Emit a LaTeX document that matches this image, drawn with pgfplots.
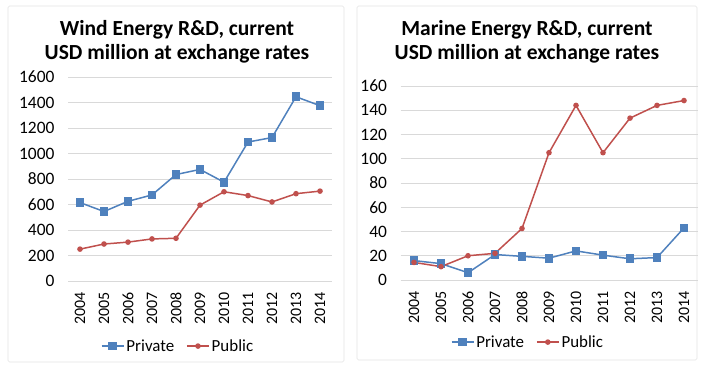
\documentclass[border=0pt]{standalone}
\usepackage{pgfplots}
\pgfplotsset{compat=1.18}
\usepackage{fontspec}
\setmainfont{Carlito}
\definecolor{cblue}{HTML}{4F81BD}
\definecolor{cred}{HTML}{C0504D}
\definecolor{cgrid}{HTML}{D9D9D9}
\pgfplotsset{
  panel/.style={
    scale only axis,
    anchor=south west,
    xmin=2003.5, xmax=2014.5,
    xtick={2004,...,2014},
    x tick label style={/pgf/number format/1000 sep={}, rotate=90, anchor=east, xshift=-8bp, font=\fontsize{16}{16}\selectfont},
    y tick label style={/pgf/number format/1000 sep={}, xshift=-10bp, font=\fontsize{17.5}{17.5}\selectfont},
    /pgf/number format/assume math mode=true,
    axis line style={draw=none},
    major tick length=0pt,
    ymajorgrids, grid style={cgrid, line width=0.8pt},
    legend columns=2,
    legend style={draw=none, fill=none, font=\fontsize{17}{17}\selectfont, anchor=center, inner sep=0pt, /tikz/every even column/.append style={column sep=10pt}},
    legend image code/.code={\draw[##1] (0bp,0bp) -- (22bp,0bp); \draw[##1,only marks] plot coordinates {(11bp,0bp)};},
  },
  priv/.style={cblue, line width=1.5pt, mark=square*, mark size=3.6bp, mark options={fill=cblue}},
  publ/.style={cred, line width=1.5pt, mark=*, mark size=2bp, mark options={fill=cred}},
}
\begin{document}
\begin{tikzpicture}[x=1bp,y=1bp]
\fill[white] (0,0) rectangle (708,373);
\draw[cgrid!70, line width=0.6pt, rounded corners=1.5bp] (8,11) rectangle (344,367);
\draw[cgrid!70, line width=0.6pt, rounded corners=1.5bp] (357,13) rectangle (697,367);
\node[font=\bfseries\fontsize{21.6}{24}\selectfont, align=center] at (177,331) {Wind Energy R\&D, current\\USD million at exchange rates};
\node[font=\bfseries\fontsize{21.6}{24}\selectfont, align=center] at (527,331) {Marine Energy R\&D, current\\USD million at exchange rates};
\begin{axis}[panel, at={(68bp,92bp)}, width=264bp, height=204bp,
  ymin=0, ymax=1600, ytick={0,200,...,1600}, legend style={at={(0.417,-0.319)}}]
\addplot[priv] coordinates {(2004,615) (2005,545) (2006,625) (2007,675) (2008,835) (2009,875) (2010,775) (2011,1090) (2012,1125) (2013,1445) (2014,1375)};
\addlegendentry{Private}
\addplot[publ] coordinates {(2004,250) (2005,290) (2006,305) (2007,330) (2008,335) (2009,595) (2010,700) (2011,670) (2012,620) (2013,685) (2014,705)};
\addlegendentry{Public}
\end{axis}
\begin{axis}[panel, at={(400.5bp,93bp)}, width=297bp, height=194bp,
  ymin=0, ymax=160, ytick={0,20,...,160}, legend style={at={(0.429,-0.32)}}]
\addplot[priv] coordinates {(2004,16) (2005,13.5) (2006,6) (2007,21) (2008,19.5) (2009,18) (2010,24) (2011,20.5) (2012,17.5) (2013,18.5) (2014,43)};
\addlegendentry{Private}
\addplot[publ] coordinates {(2004,14.5) (2005,11) (2006,20) (2007,22) (2008,42.5) (2009,105) (2010,144) (2011,105) (2012,133.5) (2013,144) (2014,148)};
\addlegendentry{Public}
\end{axis}
\end{tikzpicture}
\end{document}
